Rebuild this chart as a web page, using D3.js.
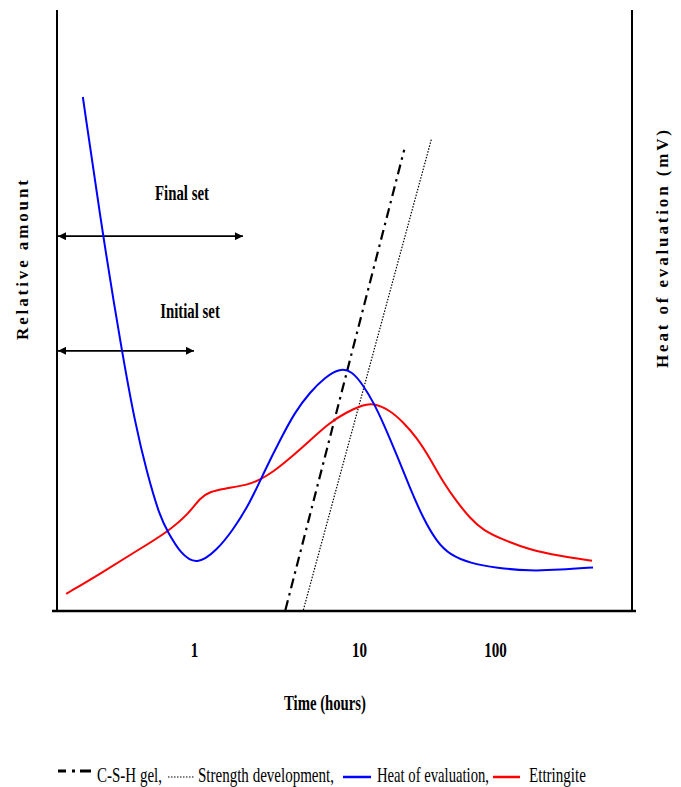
<!DOCTYPE html>
<html>
<head>
<meta charset="utf-8">
<script src="https://cdn.jsdelivr.net/npm/d3@7"></script>
<style>
  body { margin: 0; background: #fff; }
  text { font-family: 'Liberation Serif', 'Times New Roman', serif; fill: #000; }
</style>
</head>
<body>
<svg id="grafico"></svg>
<script>
// tempo em horas (eixo log) e quantidade relativa (0-100)
const horasCalor = [0.212, 0.281, 0.366, 0.439, 0.519, 0.622, 0.695, 0.823, 1.04, 1.38, 1.72, 2.18, 2.69, 3.32, 4.09, 5.05, 6.22, 7.67, 9.08, 10.7, 12.7, 15.0, 19.0, 23.7, 29.6, 37.5, 46.7, 65.5, 103, 181, 300, 526];
const valoresCalor = [85.5, 62.2, 43.0, 31.2, 22.8, 15.5, 13.0, 9.5, 7.4, 10.0, 13.3, 17.8, 23.3, 28.3, 33.0, 36.3, 38.8, 40.3, 39.8, 37.5, 34.7, 31.3, 25.8, 20.3, 15.3, 11.3, 9.2, 7.8, 7.0, 6.5, 6.7, 7.1];

const horasEtringita = [0.168, 0.269, 0.427, 0.695, 0.946, 1.087, 1.25, 1.50, 2.10, 2.51, 3.01, 3.82, 4.84, 6.67, 8.46, 10.7, 12.7, 16.9, 21.1, 26.7, 33.2, 41.5, 52.6, 65.5, 81.6, 115, 181, 300, 517];
const valoresEtringita = [2.7, 6.0, 9.5, 13.0, 16.3, 18.7, 19.7, 20.2, 20.8, 21.7, 23.0, 25.3, 27.8, 31.3, 33.0, 34.2, 34.5, 33.3, 31.3, 28.7, 25.3, 21.3, 18.0, 15.3, 13.3, 11.7, 10.0, 9.0, 8.2];

const horasCSH = [3.58, 21.5];
const valoresCSH = [0, 76.7];
const horasResistencia = [4.60, 34.1];
const valoresResistencia = [0, 78.5];

const rotulosPega = ['Final set', 'Initial set'];
const fimPega = [1.98, 1.0];
const nivelPega = [62.3, 43.2];

const ticksX = [1, 10, 100];
const rotulosLegenda = ['C-S-H gel,', 'Strength development,', 'Heat of evaluation,', 'Ettringite'];

const largura = 681, altura = 787;
const serifa = "'Liberation Serif', 'Times New Roman', serif";

let svg = d3.select('#grafico')
    .attr('width', largura)
    .attr('height', altura);

svg.append('rect').attr('width', largura).attr('height', altura).attr('fill', '#fff');

const fnX = d3.scaleLog()
    .domain([1, 10, 100])
    .range([194, 359, 495]);

const fnY = d3.scaleLinear()
    .domain([0, 100])
    .range([610, 10]);

const xEsq = 57, xDir = 632, yBase = 611;

// aperta o texto na horizontal, como no original
function aperte(sel, k) {
    sel.each(function () {
        const w = this.getComputedTextLength();
        d3.select(this).attr('textLength', w * k).attr('lengthAdjust', 'spacingAndGlyphs');
    });
}

const defs = svg.append('defs');
['fim', 'inicio'].forEach((id, i) => {
    defs.append('marker')
        .attr('id', 'seta-' + id)
        .attr('viewBox', '0 0 10 10')
        .attr('refX', i === 0 ? 10 : 0)
        .attr('refY', 5)
        .attr('markerWidth', 9)
        .attr('markerHeight', 8)
        .attr('markerUnits', 'userSpaceOnUse')
        .attr('orient', 'auto')
        .append('path')
        .attr('d', i === 0 ? 'M0,0L10,5L0,10Z' : 'M10,0L0,5L10,10Z')
        .attr('fill', '#000');
});

// eixos
svg.append('line')
    .attr('x1', xEsq).attr('x2', xEsq).attr('y1', 10).attr('y2', yBase)
    .attr('stroke', '#000').attr('stroke-width', 2);
svg.append('line')
    .attr('x1', xDir).attr('x2', xDir).attr('y1', 10).attr('y2', yBase)
    .attr('stroke', '#000').attr('stroke-width', 2);
svg.append('line')
    .attr('x1', 52).attr('x2', 636).attr('y1', yBase).attr('y2', yBase)
    .attr('stroke', '#000').attr('stroke-width', 2.5);

const eixoX = d3.axisBottom(fnX)
    .tickValues(ticksX)
    .tickSize(0)
    .tickFormat(d3.format('d'));

const gEixoX = svg.append('g')
    .attr('transform', 'translate(0,' + yBase + ')')
    .call(eixoX);
gEixoX.select('.domain').remove();
gEixoX.selectAll('text')
    .attr('y', 46).attr('dy', 0)
    .style('font-family', serifa)
    .style('font-size', '20px')
    .style('font-weight', 'bold')
    .call(aperte, 0.75);

svg.append('text')
    .attr('x', 325).attr('y', 710)
    .attr('text-anchor', 'middle')
    .style('font-family', serifa)
    .style('font-size', '22px').style('font-weight', 'bold')
    .text('Time (hours)')
    .call(aperte, 0.67);

svg.append('text')
    .attr('transform', 'translate(28,260) rotate(-90)')
    .attr('text-anchor', 'middle')
    .attr('textLength', 160).attr('lengthAdjust', 'spacing')
    .style('font-family', serifa)
    .style('font-size', '17px').style('font-weight', 'bold')
    .text('Relative amount');

svg.append('text')
    .attr('transform', 'translate(668,249) rotate(-90)')
    .attr('text-anchor', 'middle')
    .attr('textLength', 238).attr('lengthAdjust', 'spacing')
    .style('font-family', serifa)
    .style('font-size', '17px').style('font-weight', 'bold')
    .text('Heat of evaluation (mV)');

// setas de pega
const xRotulo = [0.846, 0.946];
rotulosPega.forEach((r, i) => {
    svg.append('line')
        .attr('x1', xEsq + 1).attr('x2', fnX(fimPega[i]))
        .attr('y1', fnY(nivelPega[i])).attr('y2', fnY(nivelPega[i]))
        .attr('stroke', '#000').attr('stroke-width', 1.8)
        .attr('marker-start', 'url(#seta-inicio)')
        .attr('marker-end', 'url(#seta-fim)');
    svg.append('text')
        .attr('x', fnX(xRotulo[i]))
        .attr('y', fnY(nivelPega[i]) - (i === 0 ? 36 : 33))
        .attr('text-anchor', 'middle')
        .style('font-family', serifa)
        .style('font-size', '20px').style('font-weight', 'bold')
        .text(r)
        .call(aperte, 0.74);
});

// curvas
const linha = d3.line()
    .x(d => fnX(d[0]))
    .y(d => fnY(d[1]))
    .curve(d3.curveBasis);

const reta = d3.line()
    .x(d => fnX(d[0]))
    .y(d => fnY(d[1]));

svg.append('path')
    .datum(d3.zip(horasCSH, valoresCSH))
    .attr('d', reta)
    .attr('fill', 'none').attr('stroke', '#000')
    .attr('stroke-width', 2.2).attr('stroke-dasharray', '10,5,2.5,5');

svg.append('path')
    .datum(d3.zip(horasResistencia, valoresResistencia))
    .attr('d', reta)
    .attr('fill', 'none').attr('stroke', '#000')
    .attr('stroke-width', 1.2).attr('stroke-dasharray', '1.5,1.5');

svg.append('path')
    .datum(d3.zip(horasEtringita, valoresEtringita))
    .attr('d', linha)
    .attr('fill', 'none').attr('stroke', '#ff0000').attr('stroke-width', 2);

svg.append('path')
    .datum(d3.zip(horasCalor, valoresCalor))
    .attr('d', linha)
    .attr('fill', 'none').attr('stroke', '#0000ff').attr('stroke-width', 2);

// legenda
const legenda = svg.append('g');
legenda.append('line')
    .attr('x1', 58).attr('x2', 91).attr('y1', 771).attr('y2', 771)
    .attr('stroke', '#000').attr('stroke-width', 3).attr('stroke-dasharray', '8,6,3,5,11');
legenda.append('line')
    .attr('x1', 168).attr('x2', 195).attr('y1', 777).attr('y2', 777)
    .attr('stroke', '#000').attr('stroke-width', 1.2).attr('stroke-dasharray', '1.5,1.5');
legenda.append('line')
    .attr('x1', 343).attr('x2', 371).attr('y1', 777).attr('y2', 777)
    .attr('stroke', '#0000ff').attr('stroke-width', 2.5);
legenda.append('line')
    .attr('x1', 493).attr('x2', 520).attr('y1', 777).attr('y2', 777)
    .attr('stroke', '#ff0000').attr('stroke-width', 2.5);

// cada rotulo é encolhido com scale para caber na largura do original
const xLegenda = [97, 198, 377, 529];
const larguraLegenda = [65, 136, 112, 57];
legenda.selectAll('.rotulo')
    .data(rotulosLegenda)
    .enter()
    .append('text')
    .classed('rotulo', true)
    .style('font-family', serifa)
    .style('font-size', '21px')
    .text(d => d)
    .each(function (d, i) {
        const k = larguraLegenda[i] / this.getComputedTextLength();
        d3.select(this).attr('transform', 'translate(' + xLegenda[i] + ',782) scale(' + k + ',1)');
    });
</script>
</body>
</html>
